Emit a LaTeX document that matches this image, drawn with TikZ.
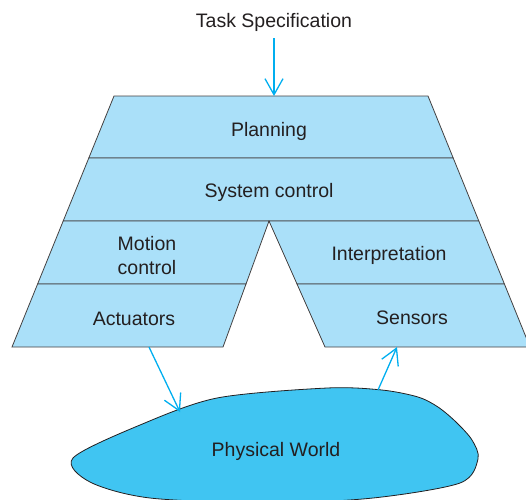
\documentclass[tikz,border=0pt]{standalone}
\usepackage{fontspec}
\setmainfont{Liberation Sans}
\usetikzlibrary{arrows.meta}
\definecolor{layerfill}{RGB}{170,224,249}
\definecolor{worldfill}{RGB}{64,197,242}
\definecolor{flowcolor}{RGB}{0,174,239}
\definecolor{inkgray}{RGB}{35,31,32}

\begin{document}
\begin{tikzpicture}[x=1pt,y=-1pt,
    layer/.style={fill=layerfill, draw=inkgray!85, line width=0.8pt},
    lbl/.style={text=inkgray, inner sep=0pt, align=center, font=\fontsize{19.5}{23.3}\selectfont},
    flow/.style={-{Straight Barb[length=16pt,width=18pt]}, flowcolor, line width=1.3pt}]
    \useasboundingbox (0,0) rectangle (526,499);

    % upper layers
    \draw[layer] (114,96) -- (428,96) -- (453.2,158) -- (88.8,158) -- cycle;
    \draw[layer] (88.8,158) -- (453.2,158) -- (478.8,221) -- (63.2,221) -- cycle;

    % left branch
    \draw[layer] (63.2,221) -- (269,221) -- (246,284) -- (37.6,284) -- cycle;
    \draw[layer] (37.6,284) -- (246,284) -- (223,347) -- (12,347) -- cycle;

    % right branch
    \draw[layer] (269,221) -- (478.8,221) -- (504.4,284) -- (297,284) -- cycle;
    \draw[layer] (297,284) -- (504.4,284) -- (530,347) -- (325,347) -- cycle;

    % the world
    \draw[fill=worldfill, draw=inkgray, line width=0.8pt]
        plot[smooth cycle, tension=0.5] coordinates {(73,458) (140,425) (217,398) (327,388)
        (382,390) (418,397) (438,407) (456,422) (472,440) (478,459) (460,483) (373,498)
        (270,503) (150,498) (90,482)};

    % labels
    \node[lbl, anchor=base] (task) at (274,27.7) {Task Specification};
    \node[lbl, anchor=base] (plan) at (269,136.7) {Planning};
    \node[lbl, anchor=base] (sysctl) at (269,197) {System control};
    \node[lbl] (motion) at (147,255.4) {Motion\\control};
    \node[lbl, anchor=base] (interp) at (389,260.5) {Interpretation};
    \node[lbl, anchor=base] (act) at (134,325) {Actuators};
    \node[lbl, anchor=base] (sens) at (412,324) {Sensors};
    \node[lbl, anchor=base] (world) at (276,456.7) {Physical World};

    % flows
    \coordinate (task-out) at (274,38);
    \coordinate (plan-in) at (274,96);
    \coordinate (act-out) at (149,347);
    \coordinate (world-in) at (180,412);
    \coordinate (world-out) at (378,390);
    \coordinate (sens-in) at (397,347);
    \draw[flow] (task-out) -- (plan-in);
    \draw[flow] (act-out) -- (world-in);
    \draw[flow] (world-out) -- (sens-in);
\end{tikzpicture}
\end{document}
